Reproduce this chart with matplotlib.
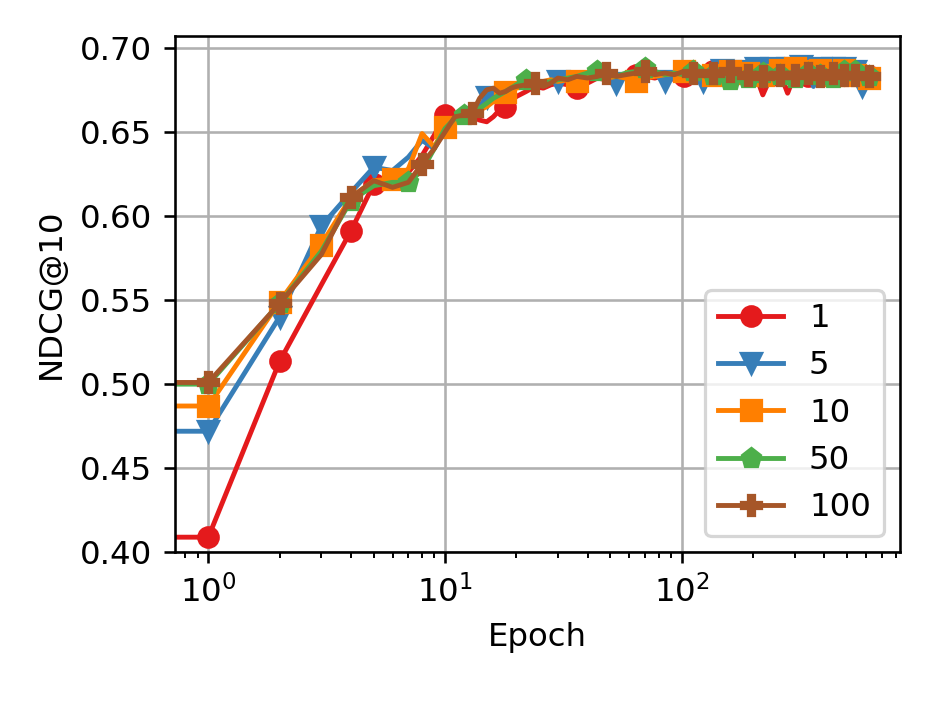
import matplotlib
matplotlib.use("Agg")
import matplotlib.pyplot as plt

epochs = [0, 1, 2, 3, 4, 5, 6, 7, 8, 9, 10, 11, 12, 13, 14, 15, 16, 17, 18, 19, 20,
          22, 24, 26, 28, 30, 33, 36, 40, 44, 48, 53, 58, 64, 70, 77, 85, 93,
          102, 112, 123, 135, 148, 160, 175, 190, 205, 220, 240, 260, 280, 300,
          320, 340, 360, 385, 410, 435, 460, 485, 510, 540, 580, 620]

labels = ["1", "5", "10", "50", "100"]

ndcg_1 = [0.409, 0.409, 0.5135, 0.559, 0.591, 0.619, 0.621, 0.626, 0.636, 0.648, 0.660,
          0.659, 0.657, 0.659, 0.657, 0.656, 0.659, 0.663, 0.665, 0.668, 0.671,
          0.674, 0.677, 0.676, 0.678, 0.679, 0.678, 0.676, 0.679, 0.682, 0.681,
          0.683, 0.682, 0.684, 0.683, 0.682, 0.684, 0.681, 0.683, 0.685, 0.684,
          0.686, 0.684, 0.685, 0.683, 0.686, 0.684, 0.672, 0.684, 0.685, 0.673,
          0.684, 0.686, 0.683, 0.685, 0.684, 0.686, 0.683, 0.685, 0.684, 0.683,
          0.685, 0.684, 0.683]
ndcg_5 = [0.472, 0.472, 0.540, 0.594, 0.614, 0.629, 0.627, 0.635, 0.645, 0.640, 0.652,
          0.658, 0.660, 0.662, 0.665, 0.671, 0.669, 0.672, 0.673, 0.675, 0.677,
          0.679, 0.680, 0.679, 0.681, 0.680, 0.682, 0.683, 0.682, 0.684, 0.683,
          0.679, 0.684, 0.685, 0.686, 0.684, 0.680, 0.685, 0.686, 0.687, 0.680,
          0.686, 0.687, 0.688, 0.686, 0.684, 0.688, 0.687, 0.688, 0.689, 0.688,
          0.689, 0.689, 0.688, 0.677, 0.688, 0.689, 0.688, 0.687, 0.688, 0.687,
          0.686, 0.677, 0.684]
ndcg_10 = [0.487, 0.487, 0.549, 0.583, 0.611, 0.621, 0.622, 0.628, 0.649, 0.641, 0.653,
           0.658, 0.660, 0.662, 0.663, 0.665, 0.668, 0.671, 0.674, 0.675, 0.676,
           0.677, 0.679, 0.680, 0.681, 0.680, 0.681, 0.680, 0.682, 0.683, 0.682,
           0.683, 0.682, 0.680, 0.682, 0.683, 0.684, 0.685, 0.686, 0.685, 0.683,
           0.684, 0.681, 0.686, 0.687, 0.685, 0.682, 0.684, 0.686, 0.687, 0.686,
           0.688, 0.687, 0.686, 0.688, 0.687, 0.685, 0.684, 0.686, 0.687, 0.685,
           0.684, 0.685, 0.682]
ndcg_50 = [0.500, 0.500, 0.548, 0.579, 0.609, 0.618, 0.620, 0.620, 0.627, 0.640, 0.652,
           0.658, 0.660, 0.662, 0.664, 0.667, 0.670, 0.672, 0.674, 0.676, 0.678,
           0.681, 0.680, 0.679, 0.680, 0.681, 0.682, 0.683, 0.685, 0.686, 0.684,
           0.683, 0.685, 0.686, 0.688, 0.686, 0.684, 0.685, 0.684, 0.686, 0.685,
           0.684, 0.683, 0.681, 0.683, 0.682, 0.683, 0.685, 0.686, 0.684, 0.683,
           0.682, 0.684, 0.685, 0.686, 0.684, 0.683, 0.682, 0.684, 0.686, 0.687,
           0.686, 0.684, 0.683]
ndcg_100 = [0.501, 0.501, 0.548, 0.577, 0.611, 0.621, 0.617, 0.620, 0.631, 0.640, 0.650,
            0.659, 0.660, 0.661, 0.670, 0.675, 0.676, 0.673, 0.674, 0.676, 0.677,
            0.678, 0.679, 0.677, 0.679, 0.682, 0.681, 0.683, 0.682, 0.683, 0.685,
            0.683, 0.684, 0.685, 0.686, 0.684, 0.685, 0.684, 0.686, 0.685, 0.686,
            0.685, 0.684, 0.686, 0.685, 0.684, 0.685, 0.683, 0.685, 0.684, 0.685,
            0.684, 0.683, 0.685, 0.684, 0.683, 0.684, 0.685, 0.683, 0.684, 0.683,
            0.684, 0.683, 0.683]

marks_1 = [1, 2, 4, 5, 10, 18, 36, 64, 102, 135, 160, 190, 240, 300, 340, 385, 435, 485, 540, 620]
marks_5 = [1, 2, 3, 5, 15, 30, 53, 85, 123, 148, 175, 205, 240, 280, 320, 385, 435, 485, 540, 580]
marks_10 = [1, 2, 3, 6, 10, 18, 36, 64, 102, 135, 160, 190, 220, 260, 300, 340, 385, 435, 485, 540, 620]
marks_50 = [1, 2, 4, 7, 12, 22, 44, 70, 112, 135, 160, 190, 220, 260, 300, 340, 385, 435, 485, 540, 620]
marks_100 = [1, 2, 4, 8, 13, 24, 48, 70, 112, 135, 160, 190, 220, 260, 300, 340, 385, 435, 485, 540, 620]

series = [ndcg_1, ndcg_5, ndcg_10, ndcg_50, ndcg_100]
marks = [marks_1, marks_5, marks_10, marks_50, marks_100]
colors = ["#e41a1c", "#377eb8", "#ff7f00", "#4daf4a", "#a65628"]
markers = ["o", "v", "s", "p", "P"]

D = 233.5
fig = plt.figure(figsize=(934 / D, 701 / D), dpi=D)
ax = fig.add_axes([0.1874, 0.2121, 0.9636 - 0.1874, 0.9486 - 0.2121])

for y, mk, c, m, lab in zip(series, marks, colors, markers, labels):
    idx = [epochs.index(e) for e in mk]
    ax.plot(epochs, y, color=c, marker=m, markevery=idx, label=lab, lw=1.5, ms=6)

ax.set_xscale("log")
ax.set_xlim(10 ** -0.1407, 10 ** 2.922)
ax.set_ylim(0.40, 0.707)
ax.set_yticks([0.40, 0.45, 0.50, 0.55, 0.60, 0.65, 0.70])
ax.yaxis.set_major_formatter(matplotlib.ticker.FormatStrFormatter("%.2f"))
ax.grid(True, which="major")
ax.set_xlabel("Epoch")
ax.set_ylabel("NDCG@10")
ax.legend(loc="lower right")

fig.savefig("out.png", dpi=D)
